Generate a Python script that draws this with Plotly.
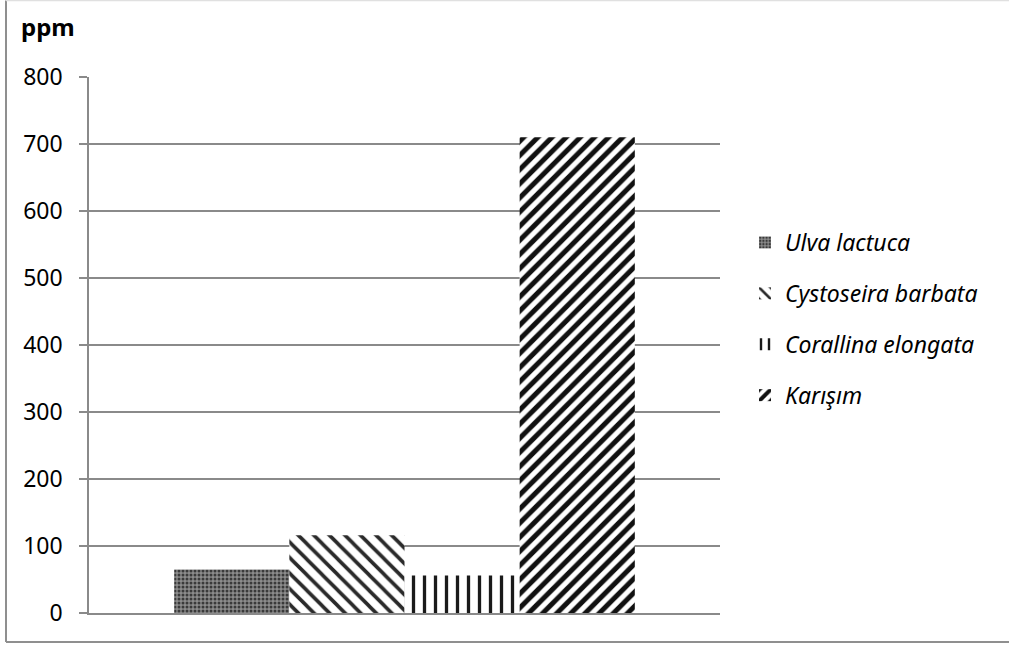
import plotly.graph_objects as go

# Species measured (ppm)
species = ["Ulva lactuca", "Cystoseira barbata", "Corallina elongata", "Karışım"]
values = [65, 116, 56, 710]

# Fill pattern per species
shapes = [".", "\\", "|", "/"]
pattern_sizes = [4, 11, 11, 10]
pattern_solidity = [0.45, 0.33, 0.3, 0.5]
bar_colors = ["#8c8c8c", "white", "white", "white"]
fg_colors = ["#3a3a3a", "#2a2a2a", "#1a1a1a", "#111111"]

y_ticks = [0, 100, 200, 300, 400, 500, 600, 700, 800]

FONT = "Noto Sans"
GRID = "#8a8a8a"

fig = go.Figure()
for name, val, shp, psz, sol, col, fg in zip(species, values, shapes, pattern_sizes,
                                            pattern_solidity, bar_colors, fg_colors):
    fig.add_trace(go.Bar(
        x=[""], y=[val], name=name, legendgroup=name,
        marker=dict(
            color=col,
            line=dict(width=0),
            pattern=dict(shape=shp, size=psz, solidity=sol,
                         fgcolor=fg, fgopacity=1, fillmode="replace",
                         bgcolor=col),
        ),
    ))

W, H = 1009, 648
ml, mr, mt, mb = 89, 289, 77, 35
pw, ph = W - ml - mr, H - mt - mb


def px(x):
    return (x - ml) / pw


def py(y):
    return (H - mb - y) / ph


fig.update_layout(
    width=W, height=H,
    margin=dict(l=ml, r=mr, t=mt, b=mb, pad=0),
    paper_bgcolor="white", plot_bgcolor="white",
    barmode="group", bargap=0.27, bargroupgap=0,
    font=dict(family=FONT, color="#000000", size=23),
    showlegend=True,
    legend=dict(
        x=px(745), xanchor="left", y=py(319), yanchor="middle",
        font=dict(family=FONT, size=23, style="italic"),
        tracegroupgap=18, itemclick=False,
    ),
    xaxis=dict(
        showticklabels=False, showgrid=False, ticks="",
        showline=True, linecolor=GRID, linewidth=1.5,
    ),
    yaxis=dict(
        range=[0, 800], tickvals=y_ticks,
        showgrid=True, gridcolor=GRID, gridwidth=1.5,
        showline=True, linecolor=GRID, linewidth=1.5,
        ticks="outside", ticklen=8, tickcolor=GRID, tickwidth=1.5,
        ticklabelstandoff=12,
        tickfont=dict(family=FONT, size=23),
        zeroline=False,
    ),
    annotations=[dict(
        text="<b>ppm</b>", xref="paper", yref="paper",
        x=px(19), y=py(26), xanchor="left", yanchor="middle",
        showarrow=False, font=dict(family=FONT, size=24),
    )],
    shapes=[
        # chart frame
        dict(type="line", xref="paper", yref="paper", x0=px(6), x1=px(6),
             y0=py(642), y1=py(0.5), line=dict(color="#8f8f8f", width=2)),
        dict(type="line", xref="paper", yref="paper", x0=px(6), x1=px(1012),
             y0=py(642), y1=py(642), line=dict(color="#8f8f8f", width=2)),
        dict(type="line", xref="paper", yref="paper", x0=px(6), x1=px(1012),
             y0=py(0.5), y1=py(0.5), line=dict(color="#e0e0e0", width=1.5)),
    ],
)

fig.write_html("out.html")
